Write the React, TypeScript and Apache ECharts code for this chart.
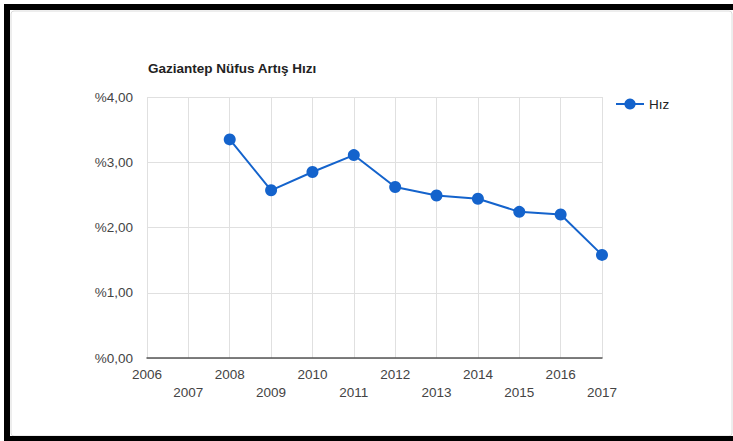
import React, { useEffect, useRef } from "react";
import * as echarts from "echarts";

const years = ["2006", "2007", "2008", "2009", "2010", "2011", "2012", "2013", "2014", "2015", "2016", "2017"];
const rates: (number | null)[] = [null, null, 3.35, 2.57, 2.85, 3.11, 2.62, 2.49, 2.44, 2.24, 2.2, 1.58];
const seriesName = "Hız";
const titleText = "Gaziantep Nüfus Artış Hızı";

export default function App() {
  const ref = useRef<HTMLDivElement>(null);
  useEffect(() => {
    if (!ref.current) return;
    const chart = echarts.init(ref.current, undefined, { renderer: "svg" });
    const font = "Liberation Sans, Arial, sans-serif";
    chart.setOption({
      animation: false,
      backgroundColor: "#ffffff",
      title: {
        text: titleText,
        left: 143,
        top: 56,
        textStyle: { fontFamily: font, fontSize: 13.5, fontWeight: "bold", color: "#222" },
      },
      legend: {
        data: [seriesName],
        left: 610,
        top: 92,
        itemWidth: 28,
        itemHeight: 14,
        textStyle: { fontFamily: font, fontSize: 13.5, color: "#222" },
      },
      grid: { left: 147, right: 131, top: 97, bottom: 83, containLabel: false },
      xAxis: {
        type: "category",
        data: years,
        boundaryGap: false,
        axisLine: { lineStyle: { color: "#555", width: 1.5 } },
        axisTick: { show: false },
        axisLabel: {
          interval: 0,
          margin: 7,
          fontFamily: font,
          fontSize: 13.5,
          color: "#444",
          lineHeight: 18,
          formatter: (v: string, i: number) => (i % 2 ? "\n" + v : v),
        },
        splitLine: { show: true, lineStyle: { color: "#e0e0e0", width: 1 } },
      },
      yAxis: {
        type: "value",
        min: 0,
        max: 4,
        interval: 1,
        axisLine: { show: false },
        axisTick: { show: false },
        axisLabel: {
          margin: 14,
          fontFamily: font,
          fontSize: 13.5,
          color: "#444",
          formatter: (v: number) => "%" + v.toFixed(2).replace(".", ","),
        },
        splitLine: { show: true, lineStyle: { color: "#e0e0e0", width: 1 } },
      },
      series: [
        {
          name: seriesName,
          type: "line",
          data: rates,
          symbol: "circle",
          symbolSize: 12,
          lineStyle: { color: "#1463cc", width: 2 },
          itemStyle: { color: "#1463cc" },
          connectNulls: false,
        },
      ],
      graphic: [
        { type: "rect", shape: { x: 11, y: 11, width: 721, height: 425, r: 3 }, style: { fill: "none", stroke: "#dcdcdc", lineWidth: 1 }, silent: true },
        { type: "rect", shape: { x: 4, y: 4, width: 729, height: 6 }, style: { fill: "#000" }, silent: true },
        { type: "rect", shape: { x: 4, y: 4, width: 6, height: 437 }, style: { fill: "#000" }, silent: true },
        { type: "rect", shape: { x: 4, y: 436, width: 729, height: 5 }, style: { fill: "#000" }, silent: true },
      ],
    });
    return () => chart.dispose();
  }, []);
  return (
    <div
      ref={ref}
      style={{ position: "fixed", left: 0, top: 0, width: 733, height: 441 }}
    />
  );
}
